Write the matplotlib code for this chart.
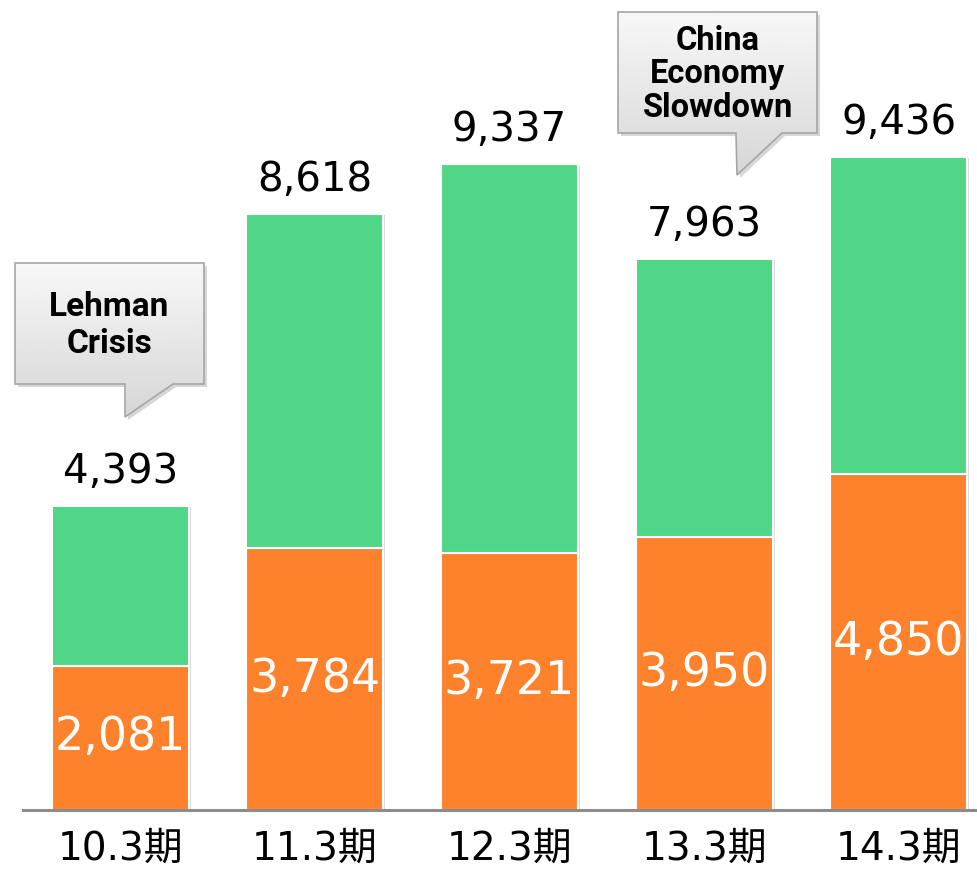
import numpy as np
import matplotlib.pyplot as plt
from matplotlib.patches import Polygon
import matplotlib.patheffects as pe

# data
periods = ['10.3期', '11.3期', '12.3期', '13.3期', '14.3期']
orange_vals = [2081, 3784, 3721, 3950, 4850]
totals = [4393, 8618, 9337, 7963, 9436]
green_vals = [t - o for t, o in zip(totals, orange_vals)]

callout_texts = ['Lehman\nCrisis', 'China\nEconomy\nSlowdown']

ORANGE = '#fe812b'
GREEN = '#50d687'

W, H = 978, 871
fig = plt.figure(figsize=(W / 100, H / 100), dpi=100)
ax = fig.add_axes([23 / W, 61 / H, 955 / W, 810 / H])

x = np.arange(len(periods))
shadow = [pe.SimplePatchShadow(offset=(1.5, -1), shadow_rgbFace='#999999', alpha=0.35), pe.Normal()]
b1 = ax.bar(x, orange_vals, width=0.704, color=ORANGE, edgecolor='white', linewidth=1.5)
b2 = ax.bar(x, green_vals, bottom=orange_vals, width=0.704, color=GREEN, edgecolor='white', linewidth=1.5)
for r in list(b1) + list(b2):
    r.set_path_effects(shadow)

for xi, t in zip(x, totals):
    ax.annotate(f'{t:,}', (xi, t), xytext=(0, 10), textcoords='offset points',
                ha='center', va='bottom', fontsize=29, color='black')
for xi, o in zip(x, orange_vals):
    ax.text(xi, o / 2, f'{o:,}', ha='center', va='center', fontsize=33, color='white')

ax.set_xlim(-0.5, -0.5 + 955 / 194.6)
ax.set_ylim(0, 11705)
ax.set_xticks(x)
ax.set_xticklabels(periods, fontsize=28, family=['DejaVu Sans', 'Noto Sans CJK JP'])
ax.tick_params(axis='x', length=0, pad=14)
ax.set_yticks([])
for s in ['top', 'right', 'left']:
    ax.spines[s].set_visible(False)
ax.spines['bottom'].set_color('#8c8c8c')
ax.spines['bottom'].set_linewidth(2.2)

# callout bubbles in pixel space
ov = fig.add_axes([0, 0, 1, 1], zorder=5)
ov.set_xlim(0, W)
ov.set_ylim(H, 0)
ov.axis('off')
ov.patch.set_alpha(0)


def callout(x0, x1, y0, y1, tail_l, tail_r, tip, text, fs, ls):
    pts = [(x0, y0), (x1, y0), (x1, y1), (tail_r, y1), tip, (tail_l, y1), (x0, y1)]
    sh = Polygon([(px + 3, py + 3) for px, py in pts], closed=True, facecolor='#b0b0b0',
                 edgecolor='none', alpha=0.5)
    ov.add_patch(sh)
    poly = Polygon(pts, closed=True, facecolor='none', edgecolor='#a6a6a6', linewidth=1.2)
    ov.add_patch(poly)
    grad = np.linspace(0.97, 0.84, 100).reshape(-1, 1)
    im = ov.imshow(grad, cmap='gray', vmin=0, vmax=1, extent=[x0, x1, tip[1], y0],
                   aspect='auto', zorder=1)
    im.set_clip_path(poly)
    poly.set_zorder(2)
    ov.text((x0 + x1) / 2, (y0 + y1) / 2 + 2, text, ha='center', va='center', fontsize=fs,
            fontweight='bold', linespacing=ls,
            family=['Roboto', 'Liberation Sans', 'DejaVu Sans'], zorder=3)


callout(15, 204, 263, 384, 125, 173, (125, 417), callout_texts[0], 24, 1.2)
callout(618, 817, 12, 133, 736, 782, (737, 175), callout_texts[1], 23.5, 1.06)

fig.savefig('out.png', dpi=100)
